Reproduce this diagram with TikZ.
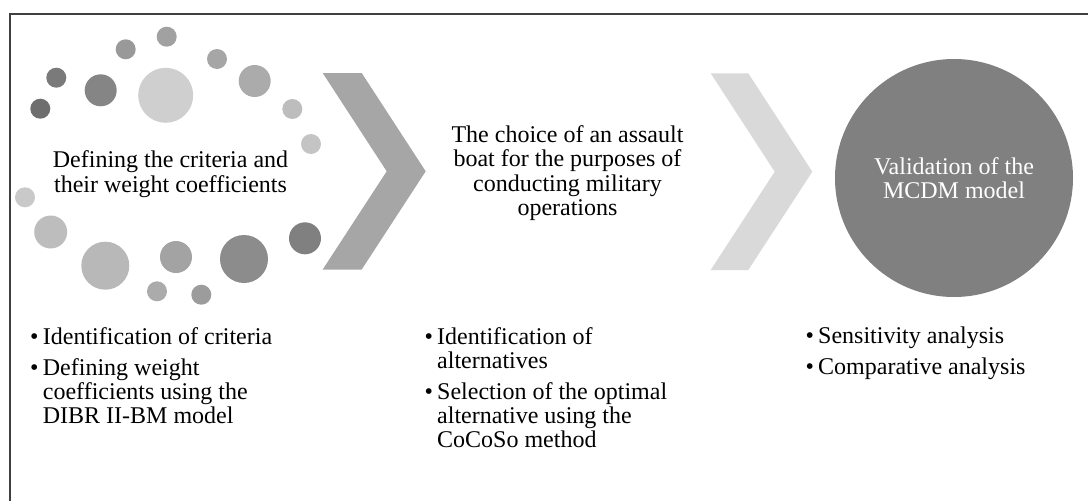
\documentclass[tikz,border=0pt]{standalone}
\usepackage{fontspec}
\setmainfont{Liberation Serif}
\usetikzlibrary{positioning}

\definecolor{frameline}{HTML}{404040}
\definecolor{chevdark}{HTML}{A6A6A6}
\definecolor{chevlight}{HTML}{D9D9D9}
\definecolor{validfill}{HTML}{808080}

\newcommand{\bul}{\makebox[12.7pt][l]{\textbullet}}
\newcommand{\hang}{\hspace*{12.7pt}}

\begin{document}
\begin{tikzpicture}[x=1pt,y=-1pt,
    dot/.style={circle,inner sep=0pt,draw=none},
    chevron/.style={draw=none},
    heading/.style={align=center,inner sep=0pt,font=\fontsize{24}{24.4}\selectfont},
    bulletlist/.style={align=left,inner sep=0pt,anchor=north west,font=\fontsize{24}{24}\selectfont}]

    \useasboundingbox (0,0) rectangle (1088,501);
    \draw[frameline,line width=1.5pt] (1088,14) -| (10,501);

    % ring of dots round the first step
    \foreach \x/\y/\d/\g [count=\i] in {
        166.7/36.7/20/37, 125.7/49.3/20/40, 217/59/20/35, 56.3/77.7/20/52,
        100.7/90.3/32/48, 165.7/95.3/55/19, 254.7/81/32/33, 40.3/108.7/20/57,
        292.3/109/20/26, 311/144/20/23, 25/197.3/20/21, 50.7/232/33/26,
        105.3/265.7/48/28, 176/257/32/36, 244/259/48/45, 305/238.3/32/50,
        157/291.3/20/33, 201.3/294.7/20/39}
        \node[dot,minimum size=\d*1pt,fill=black!\g] (dot\i) at (\x,\y) {};

    % chevrons between the steps
    \fill[chevron,chevdark] (322.7,73) -- (361.7,73) -- (425.7,171.3) -- (361.7,269.5)
        -- (322.7,269.5) -- (386.7,171.3) -- cycle;
    \fill[chevron,chevlight] (710.7,73.3) -- (748.3,73.3) -- (812.3,171.7) -- (748.3,270)
        -- (710.7,270) -- (774.7,171.7) -- cycle;

    \node[circle,minimum size=238pt,inner sep=0pt,fill=validfill,text=white,heading] (Validation) at (954,178) {Validation of the\\MCDM model};

    \node[heading] (Criteria) at (170.5,174) {Defining the criteria and\\their weight coefficients};
    \node[heading] (BoatChoice) at (567.5,173) {The choice of an assault\\boat for the purposes of\\conducting military\\operations};

    \node[bulletlist] (CriteriaList) at (30,326.9) {\bul Identification of criteria\\[7pt]
        \bul Defining weight\\\hang coefficients using the\\\hang DIBR II-BM model};
    \node[bulletlist] (BoatList) at (424.3,326.9) {\bul Identification of\\\hang alternatives\\[7pt]
        \bul Selection of the optimal\\\hang alternative using the\\\hang CoCoSo method};
    \node[bulletlist] (ValidationList) at (805.3,326.9) {\bul Sensitivity analysis\\[7pt]
        \bul Comparative analysis};
\end{tikzpicture}
\end{document}
